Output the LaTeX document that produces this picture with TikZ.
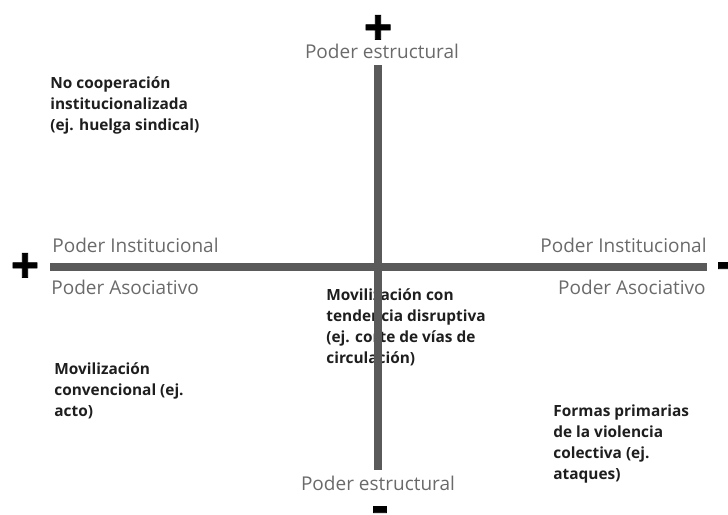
\documentclass[tikz,border=0pt]{standalone}
\usepackage{fontspec}
\setmainfont{Open Sans}
\newfontfamily\signfont[FakeBold=1.5]{Open Sans}
\usetikzlibrary{positioning}
\definecolor{AxisGray}{HTML}{5A5A5A}
\definecolor{LabelGray}{HTML}{6A6A6A}
\definecolor{TextDark}{HTML}{1E1E1E}

\begin{document}
\begin{tikzpicture}[x=0.5pt, y=-0.5pt,
    eje/.style={AxisGray, line width=3.6pt},
    poder/.style={text=LabelGray, inner sep=0pt, font=\fontsize{9.5}{11}\selectfont},
    accion/.style={text=TextDark, inner sep=0pt, align=left, anchor=north west,
                   font=\bfseries\fontsize{7.7}{10.5}\selectfont},
    signo/.style={inner sep=0pt, anchor=base, font=\signfont\bfseries\fontsize{25}{25}\selectfont}]
  \useasboundingbox (0,0) rectangle (728,514);
  % quadrant texts
  \node[accion] (nocoop) at (50,76) {No cooperación\\institucionalizada\\(ej. huelga sindical)};
  \node[accion] (disrup) at (326,288) {Movilización con\\tendencia disruptiva\\(ej. corte de vías de\\circulación)};
  \node[accion] (conven) at (54,362) {Movilización\\convencional (ej.\\acto)};
  \node[accion] (violen) at (553,404) {Formas primarias\\de la violencia\\colectiva (ej.\\ataques)};
  % axes
  \coordinate (ejeN) at (378,65);
  \coordinate (ejeS) at (378,470);
  \coordinate (ejeO) at (50,267);
  \coordinate (ejeE) at (707,267);
  \draw[eje] (ejeN) -- (ejeS);
  \draw[eje] (ejeO) -- (ejeE);
  % axis labels
  \node[poder, anchor=base] (estrN) at (382,58) {Poder estructural};
  \node[poder, anchor=base] (estrS) at (378,490) {Poder estructural};
  \node[poder, anchor=base west] (instO) at (52,252) {Poder Institucional};
  \node[poder, anchor=base west] (asocO) at (51,294) {Poder Asociativo};
  \node[poder, anchor=base east] (instE) at (707,252) {Poder Institucional};
  \node[poder, anchor=base east] (asocE) at (706,294) {Poder Asociativo};
  % signs
  \node[signo] (masN) at (378,45) {+};
  \node[signo] (masO) at (25,283) {+};
  \node[signo] (menosS) at (380,523) {-};
  \node[signo] (menosE) at (725,279) {-};
\end{tikzpicture}
\end{document}
